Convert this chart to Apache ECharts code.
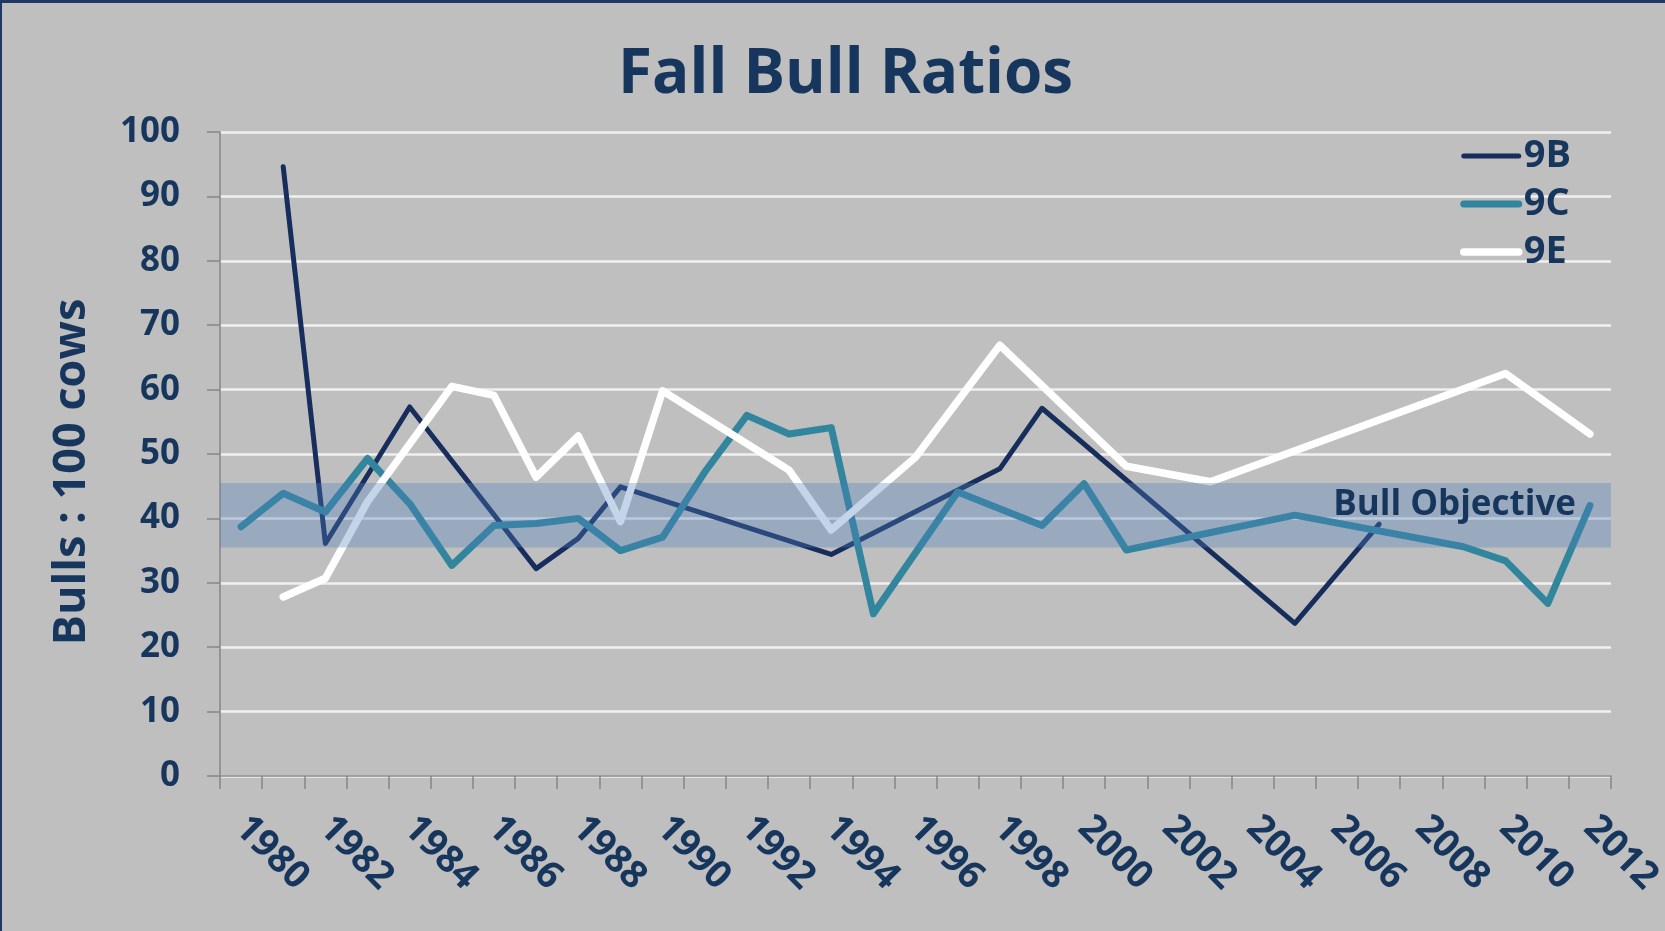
<!DOCTYPE html>
<html>
<head>
<meta charset="utf-8">
<script src="https://cdn.jsdelivr.net/npm/echarts@6/dist/echarts.min.js"></script>
<style>
  html, body { margin: 0; padding: 0; background: #BFBFBF; }
  #chart { position: absolute; left: 0; top: 0; width: 1665px; height: 931px; }
  #frame { position: absolute; left: 0; top: 0; width: 1665px; height: 931px; box-sizing: border-box;
           border-top: 3px solid #1F3864; border-left: 2px solid #1F3864; pointer-events: none; }
</style>
</head>
<body>
<div id="chart"></div>
<div id="frame"></div>
<script>
// ---- data ----
const years = ['1980','1981','1982','1983','1984','1985','1986','1987','1988','1989','1990',
  '1991','1992','1993','1994','1995','1996','1997','1998','1999','2000','2001','2002','2003',
  '2004','2005','2006','2007','2008','2009','2010','2011','2012'];

const s9B = [null, 94.6, 36.1, null, 57.3, null, null, 32.2, 36.9, 44.9, null,
  null, null, null, 34.4, null, null, null, 47.7, 57.1, null, null, null, null,
  null, 23.7, null, 39.1, null, null, null, null, null];

const s9C = [38.7, 43.9, 41.0, 49.3, 42.3, 32.7, 38.9, 39.2, 40.0, 35.0, 37.1,
  47.2, 56.0, 53.1, 54.1, 25.2, null, 44.1, null, 38.9, 45.4, 35.1, null, null,
  null, 40.5, null, null, null, 35.6, 33.4, 26.8, 42.0];

const s9E = [null, 27.8, 30.7, 42.6, null, 60.5, 59.1, 46.4, 52.8, 39.5, 59.8,
  null, null, 47.5, 38.2, null, 49.5, null, 66.9, null, null, 48.1, null, 45.7,
  null, null, null, null, null, null, 62.5, null, 53.1];

const objectiveLow = 35.5;
const objectiveHigh = 45.5;
const yTicks = { min: 0, max: 100, interval: 10 };

// ---- styles ----
const NAVY = '#17365D';
const FONT = 'Open Sans';
const C9B = '#172D5C', C9C = '#31859C', C9E = '#FFFFFF';

const chart = echarts.init(document.getElementById('chart'));
chart.setOption({
  backgroundColor: '#BFBFBF',
  animation: false,
  title: {
    text: 'Fall Bull Ratios',
    left: 618,
    top: 44,
    padding: 0,
    textStyle: { fontFamily: FONT, fontSize: 62, fontWeight: 'bold', color: NAVY }
  },
  legend: {
    orient: 'vertical',
    left: 1455,
    top: 131,
    itemWidth: 55,
    itemHeight: 14,
    itemGap: 8,
    itemStyle: { opacity: 0 },
    data: [
      { name: '9B', lineStyle: { width: 5, color: C9B } },
      { name: '9C', lineStyle: { width: 7, color: C9C } },
      { name: '9E', lineStyle: { width: 7.5, color: C9E } }
    ],
    textStyle: { fontFamily: FONT, fontSize: 38, fontWeight: 'bold', color: NAVY, lineHeight: 40 }
  },
  grid: { left: 220, right: 54, top: 132, bottom: 155, outerBoundsMode: 'none', containLabel: false },
  xAxis: {
    type: 'category',
    data: years,
    boundaryGap: true,
    axisLine: { lineStyle: { color: '#868686', width: 1.5 } },
    axisTick: { show: true, interval: 0, length: 13, lineStyle: { color: '#868686', width: 1.5 } },
    axisLabel: {
      interval: 1, rotate: -45, margin: 46,
      fontFamily: FONT, fontSize: 38, fontWeight: 'bold', color: NAVY
    },
    splitLine: { show: false }
  },
  yAxis: {
    type: 'value',
    min: yTicks.min, max: yTicks.max, interval: yTicks.interval,
    name: 'Bulls : 100 cows',
    nameLocation: 'middle',
    nameGap: 125,
    nameTextStyle: { fontFamily: FONT, fontSize: 45, fontWeight: 'bold', color: NAVY, padding: [0, 36, 0, 0] },
    axisLine: { show: true, lineStyle: { color: '#868686', width: 1.5 } },
    axisTick: { show: true, length: 13, lineStyle: { color: '#868686', width: 1.5 } },
    axisLabel: { margin: 40, fontFamily: FONT, fontSize: 35, fontWeight: 'bold', color: NAVY },
    splitLine: { lineStyle: { color: '#F0F0F0', width: 2.5 } }
  },
  series: [
    {
      name: '9B', type: 'line', data: s9B, connectNulls: true, symbol: 'none',
      lineStyle: { color: C9B, width: 5, cap: 'round', join: 'round' },
      itemStyle: { color: C9B }
    },
    {
      name: '9C', type: 'line', data: s9C, connectNulls: true, symbol: 'none',
      lineStyle: { color: C9C, width: 7, cap: 'round', join: 'round' },
      itemStyle: { color: C9C }
    },
    {
      name: '9E', type: 'line', data: s9E, connectNulls: true, symbol: 'none',
      lineStyle: { color: C9E, width: 7.5, cap: 'round', join: 'round' },
      itemStyle: { color: C9E }
    },
    {
      name: 'Bull Objective', type: 'line', data: [], symbol: 'none', z: 10,
      markArea: {
        z: 10,
        silent: true,
        itemStyle: { color: 'rgba(79,129,189,0.33)' },
        label: {
          show: true, position: 'insideRight', offset: [-30, -10],
          fontFamily: FONT, fontSize: 35, fontWeight: 'bold', color: NAVY
        },
        data: [[{ name: 'Bull Objective', yAxis: objectiveLow }, { yAxis: objectiveHigh }]]
      }
    }
  ]
});
</script>
</body>
</html>
